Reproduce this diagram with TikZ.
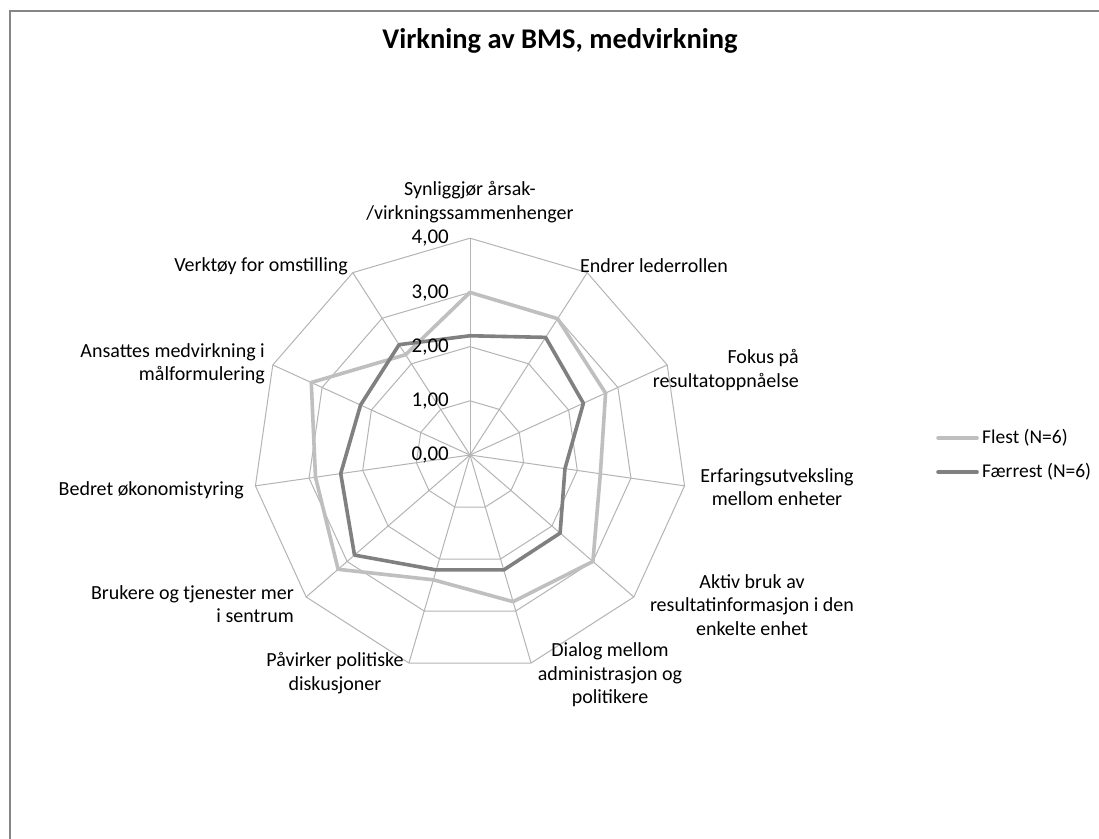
\documentclass[tikz,border=0pt]{standalone}
\usepackage{fontspec}
\setmainfont{Carlito}
\definecolor{gridgray}{HTML}{B4B4B4}
\definecolor{framegray}{HTML}{868686}
\definecolor{flestgray}{HTML}{BFBFBF}
\definecolor{faerrgray}{HTML}{808080}
\begin{document}
\begin{tikzpicture}[x=1pt,y=-1pt,
  gridline/.style={draw=gridgray,line width=1pt},
  series/.style={line width=3.6pt,line join=round},
  flest/.style={series,draw=flestgray},
  faerrest/.style={series,draw=faerrgray},
  lbl/.style={font=\fontsize{20}{23.5}\selectfont,inner sep=0pt},
  tick/.style={font=\fontsize{21}{24}\selectfont,inner sep=0pt,anchor=east},
  legtxt/.style={font=\fontsize{19.5}{23}\selectfont,inner sep=0pt,anchor=west}
]
\useasboundingbox (0,0) rectangle (1099,838);
\fill[white] (0,0) rectangle (1099,838);
% chart area frame: only its top and left edges fall on the page
\draw[framegray,line width=2pt] (10,1000) -- (10,11) -- (1300,11);

% title
\node[font=\bfseries\fontsize{28.5}{32}\selectfont,inner sep=0pt,anchor=base] (title) at (560,48) {Virkning av BMS, medvirkning};

% radar grid: 4 rings and 11 spokes
\begin{scope}[shift={(470,455)}]
  \foreach \k in {1,...,4}
    \draw[gridline] ({-90}:{\k*54.2}) \foreach \i in {1,...,10} { -- ({\i*360/11-90}:{\k*54.2}) } -- cycle;
  \foreach \i in {0,...,10}
    \draw[gridline] (0,0) -- ({\i*360/11-90}:216.8);

  % data series
  \draw[flest] ({-90}:{3.00*54.2})
    \foreach \v [count=\i] in {2.99,2.75,2.43,3.00,2.82,2.40,3.22,2.88,3.22,2.20}
      { -- ({\i*360/11-90}:{\v*54.2}) } -- cycle;
  \draw[faerrest] ({-90}:{2.20*54.2})
    \foreach \v [count=\i] in {2.58,2.30,1.77,2.20,2.21,2.21,2.82,2.41,2.22,2.42}
      { -- ({\i*360/11-90}:{\v*54.2}) } -- cycle;
\end{scope}

% scale values
\node[tick] (t4) at (449,238) {4,00};
\node[tick] (t3) at (449,293) {3,00};
\node[tick] (t2) at (449,347) {2,00};
\node[tick] (t1) at (449,401) {1,00};
\node[tick] (t0) at (449,455) {0,00};

% category labels
\node[lbl,align=center] (c0) at (470,202) {Synliggjør årsak-\\/virkningssammenhenger};
\node[lbl,anchor=west] (c1) at (580,266) {Endrer lederrollen};
\node[lbl,align=right,anchor=east] (c2) at (799,370) {Fokus på\\resultatoppnåelse};
\node[lbl,align=center] (c3) at (777,487) {Erfaringsutveksling\\mellom enheter};
\node[lbl,align=center] (c4) at (752,605) {Aktiv bruk av\\resultatinformasjon i den\\enkelte enhet};
\node[lbl,align=center] (c5) at (610,675) {Dialog mellom\\administrasjon og\\politikere};
\node[lbl,align=center] (c6) at (335,673) {Påvirker politiske\\diskusjoner};
\node[lbl,align=right,anchor=east] (c7) at (294,604) {Brukere og tjenester mer\\i sentrum};
\node[lbl,anchor=east] (c8) at (244,490) {Bedret økonomistyring};
\node[lbl,align=right,anchor=east] (c9) at (265,364) {Ansattes medvirkning i\\målformulering};
\node[lbl,anchor=east] (c10) at (348,266) {Verktøy for omstilling};

% legend
\node[legtxt] (legA) at (982,438) {Flest (N=6)};
\node[legtxt] (legB) at (982,472) {Færrest (N=6)};
\coordinate (legAs) at (938,438);
\coordinate (legBs) at (938,472);
\draw[flest,line cap=round] (legAs) -- ([xshift=-5pt]legA.west);
\draw[faerrest,line cap=round] (legBs) -- ([xshift=-5pt]legB.west);
\end{tikzpicture}
\end{document}
